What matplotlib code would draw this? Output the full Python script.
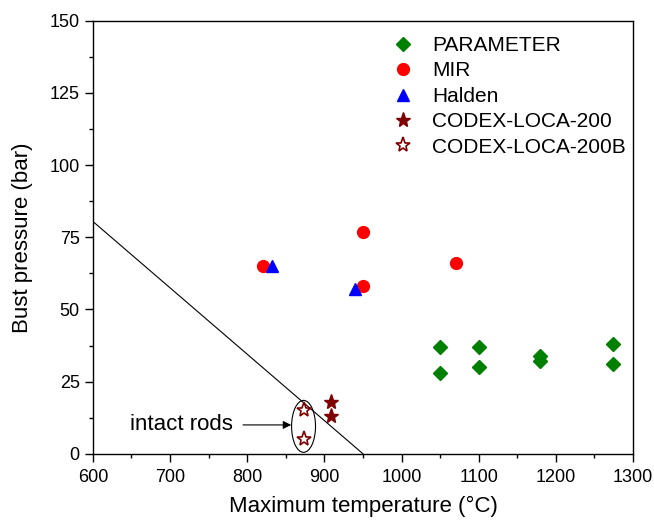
import matplotlib
matplotlib.use('Agg')
import matplotlib.pyplot as plt
from matplotlib.patches import Ellipse
from matplotlib.ticker import MultipleLocator

plt.rcParams['font.family'] = ['Liberation Sans', 'DejaVu Sans']

# data
param_T = [1050, 1050, 1100, 1100, 1180, 1180, 1274, 1274]
param_P = [37, 28, 37, 30, 34, 32, 38, 31]
mir_T = [820, 950, 950, 1070]
mir_P = [65, 77, 58, 66]
halden_T = [832, 940]
halden_P = [65, 57]
codex_T = [908, 908]
codex_P = [18, 13]
codexb_T = [874, 874]
codexb_P = [15, 5]
limit_T = [600, 950]
limit_P = [80.5, 0]

fig = plt.figure(figsize=(6.54, 5.21), dpi=100)
ax = fig.add_axes([0.142, 0.129, 0.826, 0.831])

ax.plot(limit_T, limit_P, color='black', lw=0.8)
ax.plot(param_T, param_P, 'D', color='#008000', ms=7.5, ls='none', label='PARAMETER')
ax.plot(mir_T, mir_P, 'o', color='#ff0000', ms=8.5, ls='none', label='MIR')
ax.plot(halden_T, halden_P, '^', color='#0000ff', ms=9, ls='none', label='Halden')
ax.plot(codex_T, codex_P, '*', color='#800000', ms=11, ls='none', label='CODEX-LOCA-200')
ax.plot(codexb_T, codexb_P, '*', mfc='white', mec='#800000', mew=1.2, ms=11, ls='none',
        label='CODEX-LOCA-200B')

ax.add_patch(Ellipse((873, 9.5), 31, 18, fill=False, ec='black', lw=0.8))
ax.annotate('intact rods', xy=(857, 10), xytext=(782, 10), fontsize=16,
            ha='right', va='center',
            arrowprops=dict(arrowstyle='-|>', color='black', lw=0.8, mutation_scale=12,
                            shrinkA=5, shrinkB=0))

ax.set_xlim(600, 1300)
ax.set_ylim(0, 150)
ax.xaxis.set_major_locator(MultipleLocator(100))
ax.xaxis.set_minor_locator(MultipleLocator(50))
ax.yaxis.set_major_locator(MultipleLocator(25))
ax.yaxis.set_minor_locator(MultipleLocator(12.5))
ax.tick_params(which='major', direction='out', length=6, width=1, labelsize=13)
ax.tick_params(which='minor', direction='out', length=3, width=1)
ax.tick_params(axis='x', which='major', pad=5)
for s in ax.spines.values():
    s.set_linewidth(1)

ax.set_xlabel('Maximum temperature (°C)', fontsize=16, labelpad=7)
ax.set_ylabel('Bust pressure (bar)', fontsize=16, labelpad=12)

ax.legend(loc='upper left', bbox_to_anchor=(0.600, 0.931), bbox_transform=fig.transFigure,
          frameon=False, fontsize=15, handlelength=1.0, handletextpad=0.89,
          labelspacing=0.31, borderpad=0, borderaxespad=0)

fig.savefig('out.png', dpi=100)
